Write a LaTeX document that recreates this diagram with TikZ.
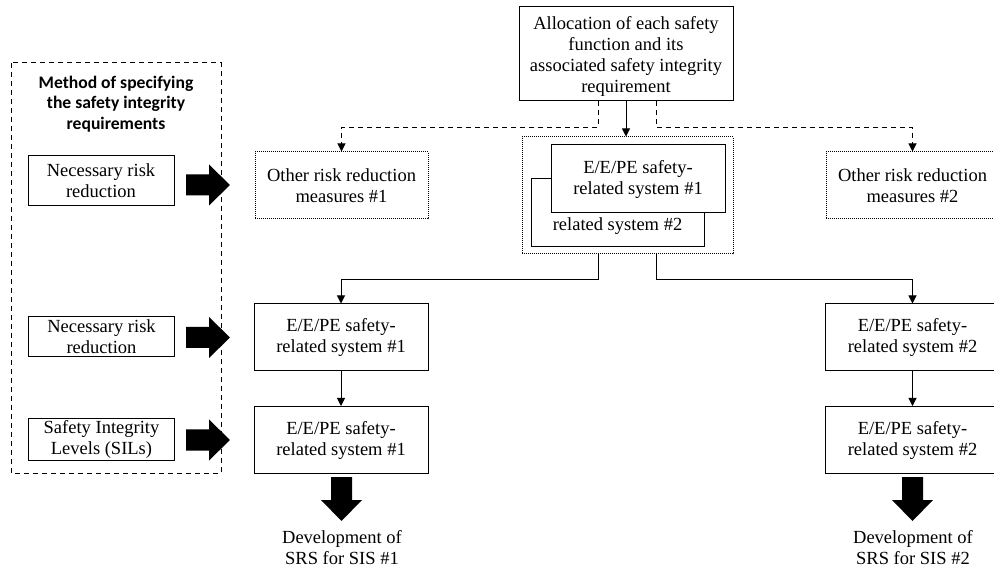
\documentclass[tikz,border=0pt]{standalone}
\usepackage{fontspec}
\setmainfont{Liberation Serif}
\newfontfamily\headfont{Carlito}
\usetikzlibrary{arrows.meta}
\newcommand\txtsize{\fontsize{18.5}{21}\selectfont}
\begin{document}
\begin{tikzpicture}[x=1pt,y=-1pt,
  box/.style={draw, line width=1pt, inner sep=0pt, align=center, font=\txtsize},
  dotbox/.style={box, dash pattern=on 1pt off 1pt},
  conn/.style={line width=1pt, -{Triangle[length=8pt,width=8pt]}},
  dconn/.style={conn, dash pattern=on 5pt off 4pt},
  blockright/.pic={\fill (0,-10.5) -- (23,-10.5) -- (23,-20.5) -- (44,0) -- (23,20.5) -- (23,10.5) -- (0,10.5) -- cycle;},
  blockdown/.pic={\fill (-10.5,0) -- (-10.5,23) -- (-20.5,23) -- (0,44) -- (20.5,23) -- (10.5,23) -- (10.5,0) -- cycle;}
]
\useasboundingbox (0,0) rectangle (994,569);
\clip (0,0) rectangle (994,569);

% method panel
\draw[line width=1pt, dash pattern=on 5pt off 4pt] (11,63) rectangle (221,473);
\node[align=center, font=\headfont\bfseries\fontsize{17.6}{20.5}\selectfont] (head) at (116,104)
  {Method of specifying\\the safety integrity\\requirements};
\node[box, minimum width=146pt, minimum height=50pt] (n1) at (101,181) {Necessary risk\\reduction};
\node[box, minimum width=146pt, minimum height=40pt] (n2) at (101.5,337) {Necessary risk\\reduction};
\node[box, minimum width=146pt, minimum height=41pt] (sil) at (101.5,439.5) {Safety Integrity\\Levels (SILs)};

% allocation
\node[box, minimum width=214pt, minimum height=94pt] (top) at (626,54)
  {\rule{0pt}{17pt}Allocation of each safety\\function and its\\associated safety integrity\\requirement};

\node[dotbox, minimum width=173pt, minimum height=67pt] (other1) at (341.5,185.5) {Other risk reduction\\measures \#1};
\node[dotbox, minimum width=173pt, minimum height=67pt] (other2) at (912.5,185.5) {Other risk reduction\\measures \#2};

% stacked safety-related systems
\node[dotbox, minimum width=211pt, minimum height=117pt] (mid) at (627.5,195.5) {};
\node[box, minimum width=173pt, minimum height=68pt] (sys2) at (617.5,213) {};
\node[box, fill=white, minimum width=174pt, minimum height=68pt] (sys1) at (638,179) {E/E/PE safety-\\related system \#1};
\node[font=\txtsize, inner sep=0pt] (sys2t) at (617.5,226) {related system \#2};

% realisation boxes
\node[box, minimum width=174pt, minimum height=67pt] (a1) at (341,337.5) {E/E/PE safety-\\related system \#1};
\node[box, minimum width=174pt, minimum height=67pt] (a2) at (341,440) {E/E/PE safety-\\related system \#1};
\node[box, minimum width=174pt, minimum height=67pt] (b1) at (912.5,337.5) {E/E/PE safety-\\related system \#2};
\node[box, minimum width=174pt, minimum height=67pt] (b2) at (912.5,440) {E/E/PE safety-\\related system \#2};

\node[align=center, font=\txtsize] (dev1) at (342,547.5) {Development of\\SRS for SIS \#1};
\node[align=center, font=\txtsize] (dev2) at (913,547.5) {Development of\\SRS for SIS \#2};

% connectors
\draw[conn] (top.south) -- (mid.north -| top.south);
\draw[dconn] ([xshift=-28pt]top.south) -- ++(0,26) -| (other1.north);
\draw[dconn] ([xshift=30pt]top.south) -- ++(0,26) -| (other2.north);
\draw[conn] ([xshift=-29.5pt]mid.south) -- ++(0,25) -| (a1.north);
\draw[conn] ([xshift=28.5pt]mid.south) -- ++(0,25) -| (b1.north);
\draw[conn] (a1) -- (a2);
\draw[conn] (b1) -- (b2);

% block arrows
\pic at (186,185) {blockright};
\pic at (186,337.5) {blockright};
\pic at (186,440) {blockright};
\pic at (341.5,477) {blockdown};
\pic at (912.5,477) {blockdown};
\end{tikzpicture}
\end{document}
